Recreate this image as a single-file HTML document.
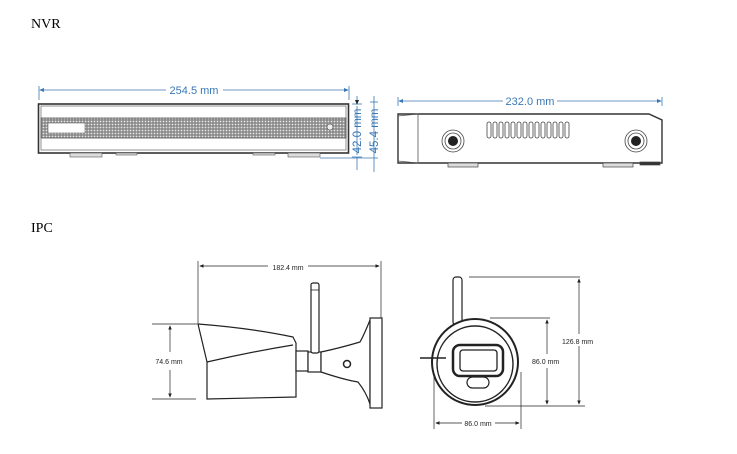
<!DOCTYPE html>
<html><head><meta charset="utf-8"><style>
html,body{margin:0;padding:0;background:#fff;}
svg{display:block;}
</style></head><body>
<svg width="737" height="454" viewBox="0 0 737 454" xmlns="http://www.w3.org/2000/svg">
<defs>
<pattern id="mesh" width="3" height="3" patternUnits="userSpaceOnUse">
<rect width="3" height="3" fill="#8a8a8a"/><circle cx="1.5" cy="1.5" r="0.9" fill="#e6e6e6"/>
</pattern>
<marker id="ab" markerWidth="6" markerHeight="6" refX="5" refY="3" orient="auto-start-reverse"><path d="M0,0.5 L6,3 L0,5.5 z" fill="#3a78b5"/></marker>
<marker id="ak" markerWidth="6" markerHeight="6" refX="5" refY="3" orient="auto-start-reverse"><path d="M0,0.5 L6,3 L0,5.5 z" fill="#222"/></marker>
</defs>
<text x="31" y="28" font-family="Liberation Serif, serif" font-size="14" fill="#000">NVR</text>
<text x="31" y="232" font-family="Liberation Serif, serif" font-size="14" fill="#000">IPC</text>

<!-- NVR front -->
<g stroke="#3a78b5" stroke-width="0.8" fill="none">
<line x1="40" y1="90" x2="166" y2="90" marker-start="url(#ab)"/>
<line x1="223" y1="90" x2="348" y2="90" marker-end="url(#ab)"/>
<line x1="39" y1="86" x2="39" y2="100"/><line x1="349" y1="86" x2="349" y2="100"/>
<line x1="352" y1="104" x2="362" y2="104"/><line x1="352" y1="157" x2="362" y2="157"/>
<line x1="357" y1="96" x2="357" y2="104" marker-end="url(#ak)"/>
<line x1="357" y1="157" x2="357" y2="170"/>
<line x1="357" y1="106" x2="357" y2="155"/>
<line x1="370" y1="102" x2="378" y2="102"/><line x1="320" y1="158" x2="378" y2="158"/>
<line x1="374" y1="96" x2="374" y2="172"/>
</g>
<text x="194" y="94" font-family="Liberation Sans, sans-serif" font-size="11" fill="#3a78b5" text-anchor="middle">254.5 mm</text>
<text transform="translate(361,131) rotate(-90)" font-family="Liberation Sans, sans-serif" font-size="11.5" fill="#3a78b5" text-anchor="middle">42.0 mm</text>
<text transform="translate(378,131) rotate(-90)" font-family="Liberation Sans, sans-serif" font-size="11.5" fill="#3a78b5" text-anchor="middle">45.4 mm</text>
<rect x="38.5" y="104" width="310" height="49" fill="#fff" stroke="#333" stroke-width="1.6"/>
<rect x="41" y="106" width="305" height="44" fill="none" stroke="#777" stroke-width="0.8"/>
<rect x="41" y="118" width="305" height="20" fill="url(#mesh)" stroke="#555" stroke-width="0.8"/>
<rect x="48" y="123" width="37" height="10" fill="#fff" stroke="#666" stroke-width="0.6"/>
<circle cx="330" cy="127" r="3" fill="#eee" stroke="#555" stroke-width="0.6"/>
<g fill="#ddd" stroke="#555" stroke-width="0.6">
<rect x="70" y="153" width="32" height="4"/><rect x="116" y="153" width="21" height="2"/>
<rect x="253" y="153" width="22" height="2"/><rect x="288" y="153" width="32" height="4"/>
</g>

<!-- NVR side -->
<g stroke="#3a78b5" stroke-width="0.8" fill="none">
<line x1="399" y1="101" x2="503" y2="101" marker-start="url(#ab)"/>
<line x1="557" y1="101" x2="661" y2="101" marker-end="url(#ab)"/>
<line x1="398" y1="97" x2="398" y2="106"/><line x1="662" y1="97" x2="662" y2="106"/>
</g>
<text x="530" y="105" font-family="Liberation Sans, sans-serif" font-size="11" fill="#3a78b5" text-anchor="middle">232.0 mm</text>
<path d="M398,114 L649,114 L662,120 L662,163 L398,163 Z" fill="#fff" stroke="#333" stroke-width="1.4"/>
<path d="M398,116 L418,114 L418,163 L398,161" fill="none" stroke="#555" stroke-width="0.8"/>
<g fill="none" stroke="#444" stroke-width="0.8">
<rect x="487" y="122" width="4" height="16" rx="2"/><rect x="493" y="122" width="4" height="16" rx="2"/>
<rect x="499" y="122" width="4" height="16" rx="2"/><rect x="505" y="122" width="4" height="16" rx="2"/>
<rect x="511" y="122" width="4" height="16" rx="2"/><rect x="517" y="122" width="4" height="16" rx="2"/>
<rect x="523" y="122" width="4" height="16" rx="2"/><rect x="529" y="122" width="4" height="16" rx="2"/>
<rect x="535" y="122" width="4" height="16" rx="2"/><rect x="541" y="122" width="4" height="16" rx="2"/>
<rect x="547" y="122" width="4" height="16" rx="2"/><rect x="553" y="122" width="4" height="16" rx="2"/>
<rect x="559" y="122" width="4" height="16" rx="2"/><rect x="565" y="122" width="4" height="16" rx="2"/>
<circle cx="453" cy="141" r="11"/><circle cx="453" cy="141" r="8"/>
<circle cx="636" cy="141" r="11"/><circle cx="636" cy="141" r="8"/>
</g>
<circle cx="453" cy="141" r="5" fill="#222"/><circle cx="636" cy="141" r="5" fill="#222"/>
<g fill="#ddd" stroke="#444" stroke-width="0.7">
<rect x="448" y="163" width="30" height="4"/><rect x="603" y="163" width="30" height="4"/><rect x="640" y="162" width="20" height="3" fill="#333"/>
</g>

<!-- IPC side -->
<g stroke="#222" stroke-width="0.7" fill="none">
<line x1="198" y1="261" x2="198" y2="324"/><line x1="381" y1="261" x2="381" y2="320"/>
<line x1="200" y1="266" x2="268" y2="266" marker-start="url(#ak)"/>
<line x1="308" y1="266" x2="379" y2="266" marker-end="url(#ak)"/>
<line x1="152" y1="324" x2="197" y2="324"/><line x1="152" y1="399" x2="196" y2="399"/>
<line x1="170" y1="326" x2="170" y2="352" marker-start="url(#ak)"/>
<line x1="170" y1="370" x2="170" y2="397" marker-end="url(#ak)"/>
</g>
<text x="288" y="270" font-family="Liberation Sans, sans-serif" font-size="7" fill="#222" text-anchor="middle">182.4 mm</text>
<text x="169" y="364" font-family="Liberation Sans, sans-serif" font-size="7" fill="#222" text-anchor="middle">74.6 mm</text>
<g stroke="#222" stroke-width="1.2" fill="#fff">
<path d="M198,324 Q250,328 293,337 L296,343 L296,397 L207,399 L207,362 Z"/>
<path d="M207,362 Q250,352 293,345" fill="none"/>
<rect x="296" y="351" width="12" height="20"/>
<rect x="308" y="352" width="13" height="20"/>
<rect x="311" y="283" width="8" height="70" rx="2"/>
<path d="M321,352 Q340,348 360,342 Q364,335 370,320 L370,404 Q366,392 358,382 Q345,380 321,372 Z"/>
<rect x="370" y="318" width="12" height="90"/>
</g>
<line x1="311" y1="290" x2="319" y2="290" stroke="#222" stroke-width="0.8"/>
<circle cx="347" cy="364" r="3.5" fill="#fff" stroke="#222" stroke-width="1.5"/>

<!-- IPC front -->
<g stroke="#222" stroke-width="0.7" fill="none">
<line x1="469" y1="277" x2="580" y2="277"/><line x1="490" y1="318" x2="550" y2="318"/>
<line x1="485" y1="406" x2="585" y2="406"/>
<line x1="547" y1="320" x2="547" y2="354" marker-start="url(#ak)"/>
<line x1="547" y1="368" x2="547" y2="404" marker-end="url(#ak)"/>
<line x1="579" y1="279" x2="579" y2="334" marker-start="url(#ak)"/>
<line x1="579" y1="346" x2="579" y2="404" marker-end="url(#ak)"/>
<line x1="434" y1="372" x2="434" y2="429"/><line x1="521" y1="372" x2="521" y2="429"/>
<line x1="436" y1="423" x2="462" y2="423" marker-start="url(#ak)"/>
<line x1="495" y1="423" x2="519" y2="423" marker-end="url(#ak)"/>
</g>
<text x="562" y="344" font-family="Liberation Sans, sans-serif" font-size="7" fill="#222">126.8 mm</text>
<text x="532" y="364" font-family="Liberation Sans, sans-serif" font-size="7" fill="#222">86.0 mm</text>
<text x="478" y="426" font-family="Liberation Sans, sans-serif" font-size="7" fill="#222" text-anchor="middle">86.0 mm</text>
<g stroke="#222" fill="#fff">
<rect x="453" y="277" width="9" height="48" rx="3" stroke-width="1.2"/>
<circle cx="475" cy="362" r="43" stroke-width="2"/>
<circle cx="475" cy="364" r="38" stroke-width="1.4"/>
<rect x="453" y="345" width="50" height="31" rx="7" stroke-width="2.5"/>
<rect x="460" y="350" width="37" height="21" rx="3" stroke-width="1.3"/>
<rect x="467" y="377" width="22" height="11" rx="5.5" stroke-width="1.2"/>
</g>
<line x1="420" y1="358" x2="446" y2="358" stroke="#222" stroke-width="1.5"/>
</svg>
</body></html>
